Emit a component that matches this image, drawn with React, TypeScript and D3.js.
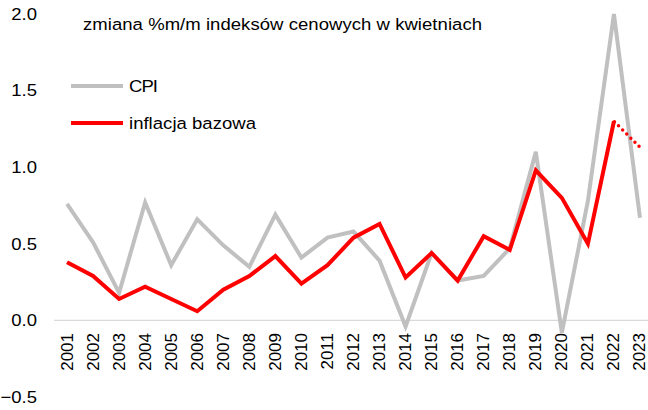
import React from 'react';
import * as d3 from 'd3';

const years = [
  '2001', '2002', '2003', '2004', '2005', '2006', '2007', '2008', '2009', '2010', '2011', '2012',
  '2013', '2014', '2015', '2016', '2017', '2018', '2019', '2020', '2021', '2022', '2023',
];
const cpi = [
  0.76, 0.51, 0.18, 0.77, 0.36, 0.66, 0.49, 0.35, 0.69, 0.41, 0.54, 0.58,
  0.39, -0.04, 0.44, 0.26, 0.29, 0.47, 1.1, -0.08, 0.78, 2.0, 0.67,
];
// inflacja bazowa, 2023 jest jeszcze prognozą (linia kropkowana)
const core = [
  0.38, 0.29, 0.14, 0.22, 0.14, 0.06, 0.2, 0.29, 0.42, 0.24, 0.36, 0.54,
  0.63, 0.28, 0.44, 0.26, 0.55, 0.46, 0.98, 0.8, 0.5, 1.3,
];
const coreForecast = [1.3, 1.13];
const yTicks = [-0.5, 0, 0.5, 1.0, 1.5, 2.0];

const title = 'zmiana %m/m indeksów cenowych w kwietniach';
const font = '"Liberation Sans", Arial, sans-serif';

// tekst w oryginale jest lekko rozciągnięty w poziomie
const sx = 1.09;

const App: React.FC = () => {
  const width = 648;
  const height = 410;

  const x = d3.scaleBand().domain(years).range([54, 653]).padding(0);
  const cx = (yr: string) => (x(yr) ?? 0) + x.bandwidth() / 2;
  const y = d3.scaleLinear().domain([-0.5, 2]).range([397, 14]);

  const line = d3
    .line<number>()
    .x((_, i) => cx(years[i]))
    .y((d) => y(d));

  const forecastLine = d3
    .line<number>()
    .x((_, i) => cx(years[years.length - 2 + i]))
    .y((d) => y(d));

  return (
    <svg
      width={width}
      height={height}
      style={{ position: 'absolute', left: 0, top: 0, background: '#fff' }}
      fontFamily={font}
    >
      <line x1={54} x2={width} y1={y(0)} y2={y(0)} stroke="#d9d9d9" strokeWidth={1.2} />

      {yTicks.map((t) => (
        <text
          key={t}
          transform={`translate(37,${y(t)}) scale(${sx},1)`}
          textAnchor="end"
          dominantBaseline="central"
          fontSize={17}
          fill="#000"
        >
          {d3.format('.1f')(t)}
        </text>
      ))}

      {years.map((yr) => (
        <text
          key={yr}
          transform={`translate(${cx(yr)},333) rotate(-90)`}
          textAnchor="end"
          dominantBaseline="central"
          fontSize={17}
          fill="#000"
        >
          {yr}
        </text>
      ))}

      <path d={line(cpi) ?? ''} fill="none" stroke="#c0c0c0" strokeWidth={4} strokeLinejoin="miter" />
      <path d={line(core) ?? ''} fill="none" stroke="#ff0000" strokeWidth={4} strokeLinejoin="miter" />
      <path
        d={forecastLine(coreForecast) ?? ''}
        fill="none"
        stroke="#ff0000"
        strokeWidth={3.5}
        strokeLinecap="round"
        strokeDasharray="0 5.8"
        strokeDashoffset={-6.5}
      />

      <text
        transform={`translate(83,30) scale(${sx},1)`}
        fontSize={17}
        fill="#000"
        textLength={399 / sx}
        lengthAdjust="spacing"
      >
        {title}
      </text>

      <line x1={71} x2={123} y1={86} y2={86} stroke="#c0c0c0" strokeWidth={4} />
      <text
        transform={`translate(129,86) scale(${sx},1)`}
        dominantBaseline="central"
        fontSize={17}
        fill="#000"
        textLength={29 / sx}
        lengthAdjust="spacing"
      >
        CPI
      </text>
      <line x1={71} x2={123} y1={123} y2={123} stroke="#ff0000" strokeWidth={4} />
      <text
        transform={`translate(129,123) scale(${sx},1)`}
        dominantBaseline="central"
        fontSize={17}
        fill="#000"
        textLength={127 / sx}
        lengthAdjust="spacing"
      >
        inflacja bazowa
      </text>
    </svg>
  );
};

export default App;
